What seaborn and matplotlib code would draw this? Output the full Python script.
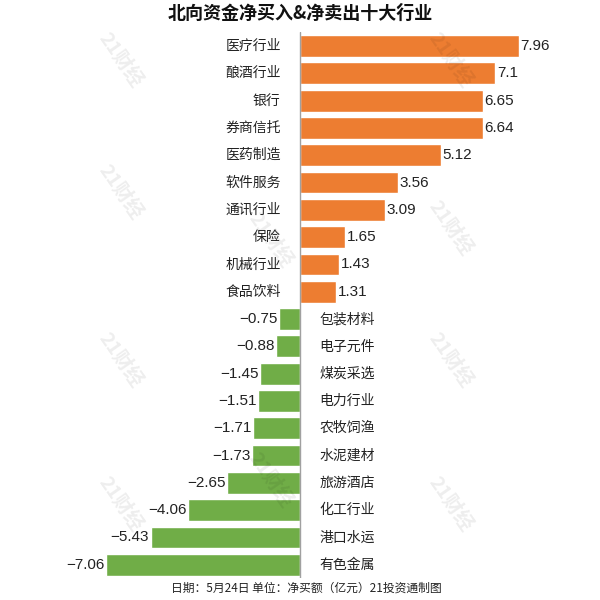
import pandas as pd
import numpy as np
import matplotlib
matplotlib.use("Agg")
import matplotlib.pyplot as plt
import seaborn as sns

industries = ["医疗行业", "酿酒行业", "银行", "券商信托", "医药制造", "软件服务", "通讯行业",
              "保险", "机械行业", "食品饮料", "包装材料", "电子元件", "煤炭采选", "电力行业",
              "农牧饲渔", "水泥建材", "旅游酒店", "化工行业", "港口水运", "有色金属"]
net_values = [7.96, 7.1, 6.65, 6.64, 5.12, 3.56, 3.09, 1.65, 1.43, 1.31,
              -0.75, -0.88, -1.45, -1.51, -1.71, -1.73, -2.65, -4.06, -5.43, -7.06]
value_labels = ["7.96", "7.1", "6.65", "6.64", "5.12", "3.56", "3.09", "1.65", "1.43", "1.31",
                "−0.75", "−0.88", "−1.45", "−1.51", "−1.71", "−1.73", "−2.65", "−4.06", "−5.43", "−7.06"]

sns.set_style("white")
plt.rcParams["font.family"] = ["Noto Sans CJK SC", "DejaVu Sans"]
num_font = ["Liberation Sans", "DejaVu Sans"]

df = pd.DataFrame({"industry": industries, "value": net_values})
df["side"] = np.where(df["value"] > 0, "buy", "sell")

fig = plt.figure(figsize=(6, 6), dpi=100)
ax = fig.add_axes([0, 0.036, 1, 0.91])
pal = {"buy": "#ED7D31", "sell": "#70AD47"}
sns.barplot(data=df, y="industry", x="value", hue="side", palette=pal, orient="h",
            width=0.8, dodge=False, legend=False, saturation=1, ax=ax)

ax.set_xlim(-10.9, 10.9)
ax.set_ylim(19.5, -0.5)
ax.axvline(0, color="#a0a0a0", lw=1, zorder=3)
for s in ax.spines.values():
    s.set_visible(False)
ax.set_xticks([])
ax.set_yticks([])
ax.set_xlabel("")
ax.set_ylabel("")

for i, (name, v, lab) in enumerate(zip(industries, net_values, value_labels)):
    if v > 0:
        ax.text(-0.7, i, name, ha="right", va="center", fontsize=10, color="#222222")
        ax.text(v + 0.05, i, lab, ha="left", va="center", fontsize=11, color="#222222",
                family=num_font)
    else:
        ax.text(0.7, i, name, ha="left", va="center", fontsize=10, color="#222222")
        ax.text(v - 0.05, i, lab, ha="right", va="center", fontsize=11, color="#222222",
                family=num_font)

# faint watermarks
for (wx, wy) in [(0.2, 0.9), (0.75, 0.9), (0.2, 0.68), (0.75, 0.62), (0.45, 0.6),
                 (0.2, 0.4), (0.75, 0.4), (0.45, 0.2), (0.2, 0.16), (0.75, 0.16)]:
    fig.text(wx, wy, "21财经", fontsize=14, color="#000000", alpha=0.07, rotation=-55,
             ha="center", va="center", fontweight="bold")

fig.text(0.5, 0.977, "北向资金净买入&净卖出十大行业", ha="center", va="center",
         fontsize=13, fontweight="bold", color="#111111")
fig.text(0.51, 0.02, "日期：5月24日 单位：净买额（亿元）21投资通制图", ha="center", va="center",
         fontsize=8.5, color="#222222")

fig.savefig("out.png", dpi=100)
